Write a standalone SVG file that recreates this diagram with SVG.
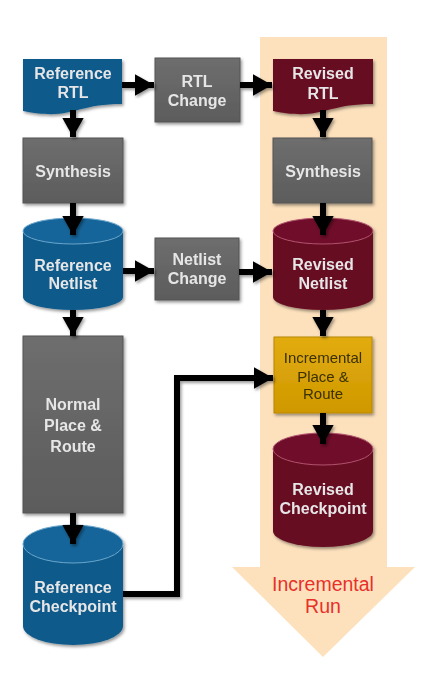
<svg xmlns="http://www.w3.org/2000/svg" width="425" height="678" viewBox="0 0 425 678">
<defs>
<filter id="sh" x="-20%" y="-20%" width="140%" height="140%"><feDropShadow dx="1.5" dy="2" stdDeviation="1.8" flood-color="#000" flood-opacity="0.4"/></filter>
<marker id="ah" markerWidth="4" markerHeight="4" refX="3.2" refY="2" orient="auto" markerUnits="strokeWidth"><path d="M0,0.2 L3.2,2 L0,3.8 Z" fill="#000"/></marker>
<linearGradient id="gray" x1="0" y1="0" x2="0" y2="1"><stop offset="0" stop-color="#6e6e6e"/><stop offset="1" stop-color="#5c5c5c"/></linearGradient>
<linearGradient id="gold" x1="0" y1="0" x2="0" y2="1"><stop offset="0" stop-color="#e2ac10"/><stop offset="1" stop-color="#cf9800"/></linearGradient>
</defs>
<style>
.t{font-family:"Liberation Sans",Arial,sans-serif;font-size:16px;font-weight:bold;fill:#e6e6e6;text-anchor:middle}
.td{font-family:"Liberation Sans",Arial,sans-serif;font-size:15px;fill:#3a3000;text-anchor:middle}
.tr{font-family:"Liberation Sans",Arial,sans-serif;font-size:19.5px;fill:#e8302a;text-anchor:middle}
.box{fill:url(#gray);stroke:#555;stroke-width:1}
.blue{fill:#0f5a8b}
.blueTop{fill:#15659a;stroke:#6aa6cc;stroke-width:1}
.mar{fill:#660a22}
.marTop{fill:#6f0f2a;stroke:#b2536e;stroke-width:1}
.c{fill:none;stroke:#000;stroke-width:6;marker-end:url(#ah)}
</style>
<g id="incremental-run">
<path d="M260,37 H387 V567 H415 L323,657 L232,567 H260 Z" fill="#fde1bd"/>
<text class="tr" x="323" y="591">Incremental</text>
<text class="tr" x="323" y="613">Run</text>
</g>
<g id="reference-rtl" filter="url(#sh)">
<path class="blue" d="M23,59 H122 V104 C73,104 73,121 23,111 Z"/>
<text class="t" x="73" y="79">Reference</text>
<text class="t" x="73" y="98">RTL</text>
</g>
<g id="rtl-change" filter="url(#sh)">
<rect class="box" x="155" y="58" width="85" height="64"/>
<text class="t" x="197" y="87">RTL</text>
<text class="t" x="197" y="106">Change</text>
</g>
<g id="revised-rtl" filter="url(#sh)">
<path class="mar" d="M273,59 H373 V104 C323,104 323,121 273,111 Z"/>
<text class="t" x="323" y="79">Revised</text>
<text class="t" x="323" y="99">RTL</text>
</g>
<g id="synthesis-ref" filter="url(#sh)">
<rect class="box" x="23" y="138" width="100" height="65"/>
<text class="t" x="73" y="177">Synthesis</text>
</g>
<g id="synthesis-rev" filter="url(#sh)">
<rect class="box" x="273" y="138" width="99" height="65"/>
<text class="t" x="323" y="177">Synthesis</text>
</g>
<g id="reference-netlist" filter="url(#sh)">
<path class="blue" d="M23,231 V297 A50,13 0 0 0 123,297 V231 Z"/>
<ellipse class="blueTop" cx="73" cy="231" rx="50" ry="13"/>
<text class="t" x="73" y="271">Reference</text>
<text class="t" x="73" y="289">Netlist</text>
</g>
<g id="netlist-change" filter="url(#sh)">
<rect class="box" x="155" y="238" width="84" height="62"/>
<text class="t" x="197" y="265">Netlist</text>
<text class="t" x="197" y="284">Change</text>
</g>
<g id="revised-netlist" filter="url(#sh)">
<path class="mar" d="M273,231 V297 A50,13 0 0 0 373,297 V231 Z"/>
<ellipse class="marTop" cx="323" cy="231" rx="50" ry="13"/>
<text class="t" x="323" y="270">Revised</text>
<text class="t" x="323" y="289">Netlist</text>
</g>
<g id="normal-place-route" filter="url(#sh)">
<rect class="box" x="23" y="336" width="100" height="177"/>
<text class="t" x="73" y="410">Normal</text>
<text class="t" x="73" y="431">Place &amp;</text>
<text class="t" x="73" y="452">Route</text>
</g>
<g id="incremental-place-route" filter="url(#sh)">
<rect x="274" y="337" width="98" height="76" fill="url(#gold)" stroke="#b88700" stroke-width="1"/>
<text class="td" x="323" y="363">Incremental</text>
<text class="td" x="323" y="382">Place &amp;</text>
<text class="td" x="323" y="399">Route</text>
</g>
<g id="reference-checkpoint" filter="url(#sh)">
<path class="blue" d="M23,544 V626 A50,19 0 0 0 123,626 V544 Z"/>
<ellipse class="blueTop" cx="73" cy="544" rx="50" ry="19"/>
<text class="t" x="73" y="593">Reference</text>
<text class="t" x="73" y="612">Checkpoint</text>
</g>
<g id="revised-checkpoint" filter="url(#sh)">
<path class="mar" d="M273,449 V531 A50,16 0 0 0 373,531 V449 Z"/>
<ellipse class="marTop" cx="323" cy="449" rx="50" ry="16"/>
<text class="t" x="323" y="495">Revised</text>
<text class="t" x="323" y="514">Checkpoint</text>
</g>
<g id="connectors" filter="url(#sh)">
<path class="c" d="M122,85 H154"/>
<path class="c" d="M240,85 H272"/>
<path class="c" d="M73,110 V137"/>
<path class="c" d="M73,203 V235"/>
<path class="c" d="M123,271 H154"/>
<path class="c" d="M239,272 H272"/>
<path class="c" d="M73,310 V336"/>
<path class="c" d="M73,513 V544"/>
<path class="c" d="M323,110 V137"/>
<path class="c" d="M323,203 V235"/>
<path class="c" d="M323,310 V336"/>
<path class="c" d="M323,413 V444"/>
<path class="c" d="M123,594 H177 V378 H273"/>
</g>
</svg>
